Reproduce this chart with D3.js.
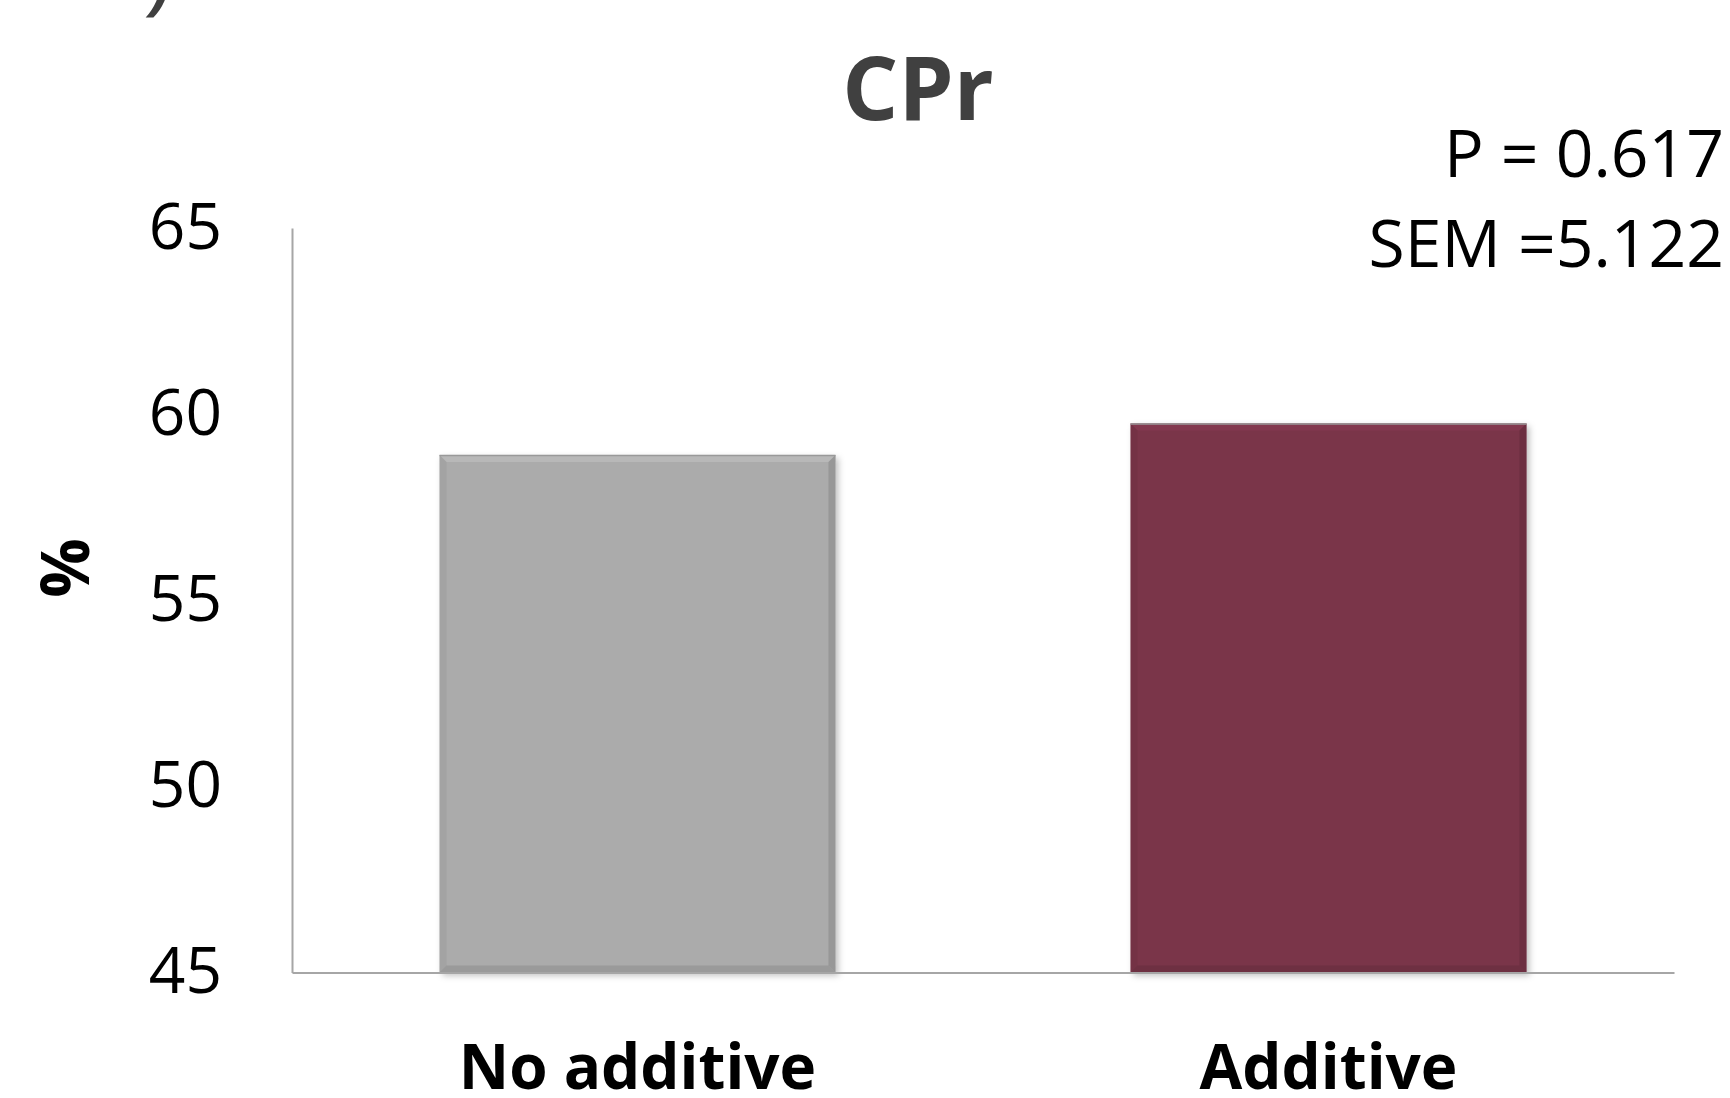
<!DOCTYPE html>
<html>
<head>
<meta charset="utf-8">
<script src="https://cdn.jsdelivr.net/npm/d3@7"></script>
<style>
  html, body { margin: 0; padding: 0; background: #ffffff; }
  svg { display: block; }
</style>
</head>
<body>
<svg id="chart" width="1730" height="1098"></svg>
<script>
const categories = ["No additive", "Additive"];
const values = [58.9, 59.75];
const barColors = ["#ababab", "#7a354a"];
const yTicks = [45, 50, 55, 60, 65];
const yDomain = [45, 65];
const title = "CPr";
const yLabel = "%";
const statLines = ["P = 0.617", "SEM =5.122"];

(function () {
const FONT = "'Open Sans', 'Noto Sans', sans-serif";
const svg = d3.select("#chart");

const pLeft = 292, pRight = 1674, pTop = 228, pBottom = 972.5;

const x = d3.scaleBand().domain(categories).range([pLeft, pRight])
  .paddingInner(0.427).paddingOuter(0.2135);
const y = d3.scaleLinear().domain(yDomain).range([pBottom, pTop]);

const defs = svg.append("defs");
const f = defs.append("filter").attr("id", "shadow").attr("x", "-5%").attr("y", "-5%").attr("width", "115%").attr("height", "115%");
f.append("feDropShadow").attr("dx", 3).attr("dy", 3).attr("stdDeviation", 3).attr("flood-color", "#000").attr("flood-opacity", 0.25);

// Panel label fragment (cut off at top)
svg.append("text")
  .attr("x", 150).attr("y", 8)
  .attr("font-family", FONT).attr("font-weight", 700).attr("font-style", "italic")
  .attr("font-size", 60).attr("fill", "#404040")
  .text(")");

// Title
svg.append("text")
  .attr("x", 918).attr("y", 120)
  .attr("text-anchor", "middle")
  .attr("font-family", FONT).attr("font-weight", 700)
  .attr("font-size", 88).attr("fill", "#404040")
  .text(title);

// Stats text
svg.selectAll("text.stat").data(statLines).join("text")
  .attr("class", "stat")
  .attr("x", 1724)
  .attr("y", (d, i) => 177 + i * 90)
  .attr("text-anchor", "end")
  .attr("font-family", FONT)
  .attr("font-size", 66).attr("fill", "#000")
  .text(d => d);

// Bars
const bars = svg.append("g");
categories.forEach((c, i) => {
  const bx = x(c), bw = x.bandwidth(), by = y(values[i]), bh = pBottom - y(values[i]);
  const g = bars.append("g");
  g.append("rect")
    .attr("x", bx).attr("y", by).attr("width", bw).attr("height", bh)
    .attr("fill", barColors[i]).attr("filter", "url(#shadow)");
  const col = d3.color(barColors[i]);
  const light = col.brighter(0.35).formatHex();
  const dark = col.darker(0.6).formatHex();
  const e = 7;
  g.append("path")
    .attr("d", `M${bx},${by} L${bx+bw},${by} L${bx+bw-e},${by+e} L${bx+e},${by+e} Z`)
    .attr("fill", light).attr("opacity", 0.55);
  g.append("path")
    .attr("d", `M${bx},${by} L${bx+e},${by+e} L${bx+e},${by+bh-e} L${bx},${by+bh} Z`)
    .attr("fill", dark).attr("opacity", 0.25);
  g.append("path")
    .attr("d", `M${bx+bw},${by} L${bx+bw},${by+bh} L${bx+bw-e},${by+bh-e} L${bx+bw-e},${by+e} Z`)
    .attr("fill", dark).attr("opacity", 0.6);
  g.append("path")
    .attr("d", `M${bx},${by+bh} L${bx+bw},${by+bh} L${bx+bw-e},${by+bh-e} L${bx+e},${by+bh-e} Z`)
    .attr("fill", dark).attr("opacity", 0.5);
  g.append("line")
    .attr("x1", bx).attr("x2", bx + bw).attr("y1", by + 0.5).attr("y2", by + 0.5)
    .attr("stroke", "#999").attr("stroke-width", 1.5);
});

// Y axis
const yAxis = d3.axisLeft(y).tickValues(yTicks).tickSize(0).tickPadding(70).tickFormat(d3.format("d"));
const gy = svg.append("g").attr("transform", `translate(${pLeft},0)`).call(yAxis);
gy.select(".domain").attr("stroke", "#a6a6a6").attr("stroke-width", 2);
gy.selectAll("text").attr("font-family", FONT).attr("font-size", 64).attr("fill", "#000");

// X axis
const xAxis = d3.axisBottom(x).tickSize(0).tickPadding(72);
const gx = svg.append("g").attr("transform", `translate(0,${pBottom})`).call(xAxis);
gx.select(".domain").attr("stroke", "#a6a6a6").attr("stroke-width", 2);
gx.selectAll("text").attr("font-family", FONT).attr("font-weight", 700)
  .attr("font-size", 62).attr("fill", "#000").attr("dy", "0.71em");

// Y label
svg.append("text")
  .attr("transform", `translate(89,568) rotate(-90)`)
  .attr("text-anchor", "middle")
  .attr("font-family", FONT).attr("font-weight", 700)
  .attr("font-size", 66).attr("fill", "#000")
  .text(yLabel);
})();
</script>
</body>
</html>
